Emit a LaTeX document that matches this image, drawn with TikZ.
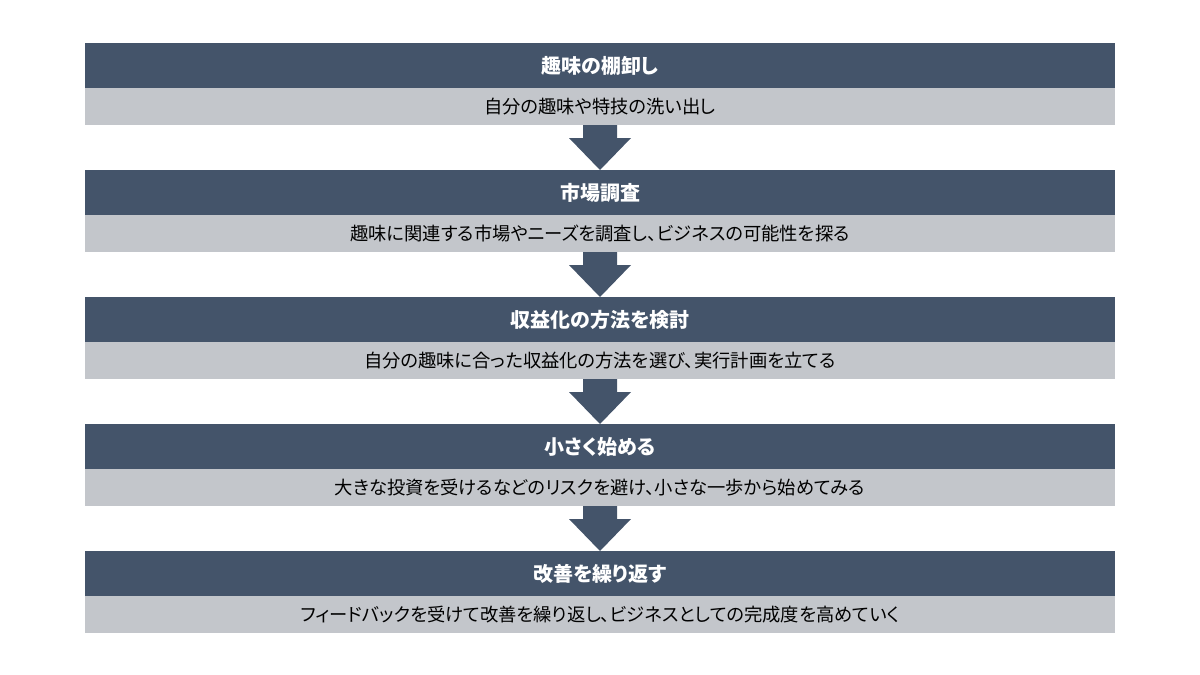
\documentclass[tikz,border=0pt]{standalone}
\usepackage{fontspec}
\newfontfamily\jpfont[CharacterWidth=AlternateProportional]{Noto Sans CJK JP}
\usetikzlibrary{positioning,calc}

\definecolor{slate}{HTML}{44546A}
\definecolor{mist}{HTML}{C3C6CB}

\begin{document}
\begin{tikzpicture}[
  x=1pt,y=1pt,
  font=\jpfont,
  bar/.style={
    minimum width=1030pt,
    inner sep=0pt,
    outer sep=0pt,
    align=center
  },
  stage head/.style={
    bar,
    fill=slate,
    text=white,
    minimum height=45pt,
    font=\jpfont\bfseries\fontsize{20}{23}\selectfont
  },
  stage desc/.style={
    bar,
    fill=mist,
    text=black,
    minimum height=37pt,
    font=\jpfont\fontsize{18.3}{21}\selectfont
  },
  block arrow/.style={
    fill=slate
  }
]
\useasboundingbox (0,0) rectangle (1200,-675);

\node[stage head] (inventory) at (600,-65.5) {趣味の棚卸し};
\node[stage desc,below=0pt of inventory] (inventory-desc) {自分の趣味や特技の洗い出し};

\node[stage head,below=45pt of inventory-desc] (research) {市場調査};
\node[stage desc,below=0pt of research] (research-desc) {趣味に関連する市場やニーズを調査し、ビジネスの可能性を探る};

\node[stage head,below=45pt of research-desc] (monetize) {収益化の方法を検討};
\node[stage desc,below=0pt of monetize] (monetize-desc) {自分の趣味に合った収益化の方法を選び、実行計画を立てる};

\node[stage head,below=45pt of monetize-desc] (start-small) {小さく始める};
\node[stage desc,below=0pt of start-small] (start-small-desc) {大きな投資を受けるなどのリスクを避け、小さな一歩から始めてみる};

\node[stage head,below=45pt of start-small-desc] (improve) {改善を繰り返す};
\node[stage desc,below=0pt of improve] (improve-desc) {フィードバックを受けて改善を繰り返し、ビジネスとしての完成度を高めていく};

% block arrows between the stages
\fill[block arrow] ($(inventory-desc.south)+(-17,0)$) -- ++(0,-13) -- ++(-14,0)
  -- (research.north) -- ++(31,32) -- ++(-14,0) -- ++(0,13) -- cycle;
\fill[block arrow] ($(research-desc.south)+(-17,0)$) -- ++(0,-13) -- ++(-14,0)
  -- (monetize.north) -- ++(31,32) -- ++(-14,0) -- ++(0,13) -- cycle;
\fill[block arrow] ($(monetize-desc.south)+(-17,0)$) -- ++(0,-13) -- ++(-14,0)
  -- (start-small.north) -- ++(31,32) -- ++(-14,0) -- ++(0,13) -- cycle;
\fill[block arrow] ($(start-small-desc.south)+(-17,0)$) -- ++(0,-13) -- ++(-14,0)
  -- (improve.north) -- ++(31,32) -- ++(-14,0) -- ++(0,13) -- cycle;

\end{tikzpicture}
\end{document}
